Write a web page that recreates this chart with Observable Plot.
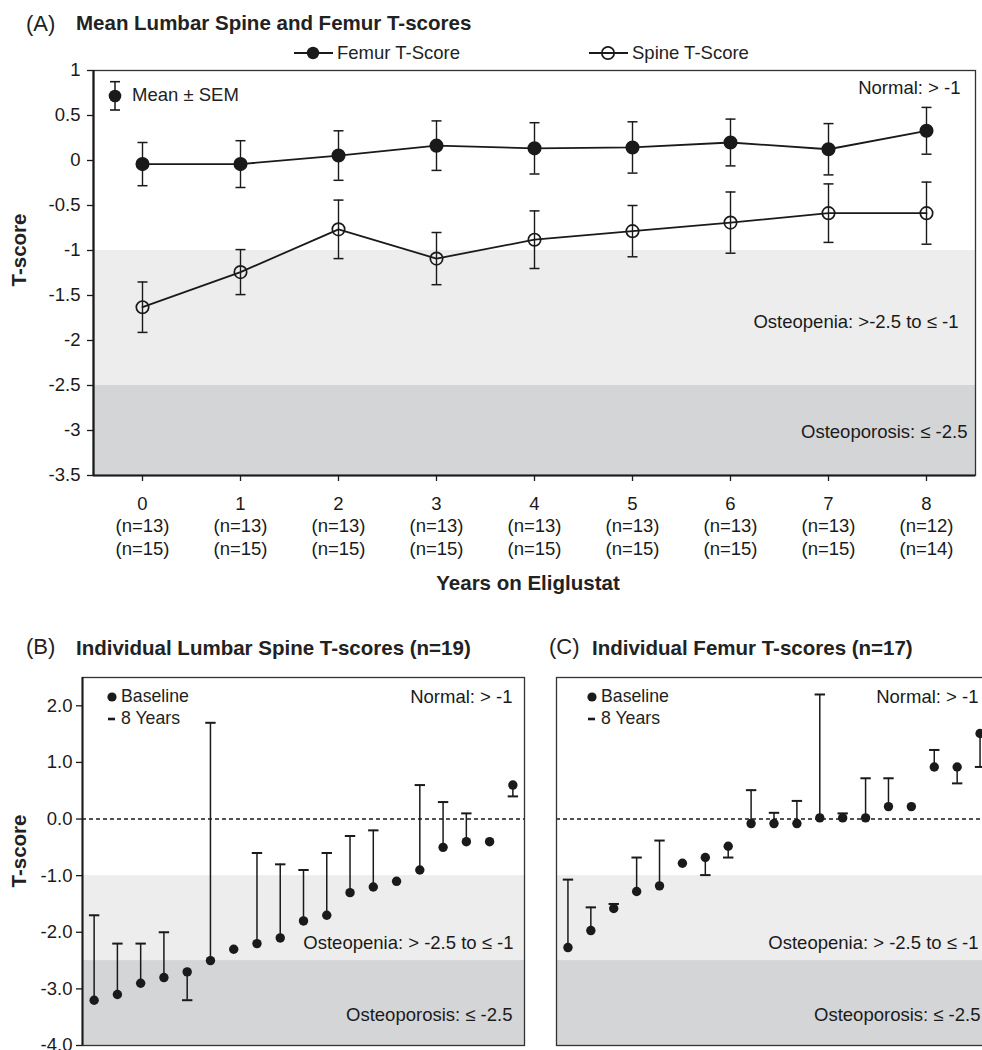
<!DOCTYPE html>
<html><head><meta charset="utf-8">
<script src="https://cdn.jsdelivr.net/npm/d3@7"></script>
<script src="https://cdn.jsdelivr.net/npm/@observablehq/plot@0.6"></script>
<style>
html,body{margin:0;padding:0;background:#fff;overflow:hidden;}
#wrap{position:relative;width:982px;height:1050px;overflow:hidden;background:#fff;font-family:"Liberation Sans",Arial,Helvetica,sans-serif;color:#222;}
.panel{position:absolute;}
.panel svg{max-width:none !important;display:block;}
.t{position:absolute;white-space:nowrap;line-height:1;transform:translateY(-50%);font-size:18.5px;}
.b{font-weight:bold;font-size:20.5px;}
.ic{position:absolute;overflow:visible;line-height:0;}
.ic svg{display:block;}
</style></head>
<body><div id="wrap"></div>
<script>
// ---------- Data ----------
const years = [0, 1, 2, 3, 4, 5, 6, 7, 8];
const nFemur = [13, 13, 13, 13, 13, 13, 13, 13, 12];
const nSpine = [15, 15, 15, 15, 15, 15, 15, 15, 14];
const femurMean = [-0.04, -0.04, 0.055, 0.165, 0.135, 0.145, 0.20, 0.125, 0.33];
const femurSEM  = [0.24, 0.26, 0.275, 0.275, 0.285, 0.285, 0.26, 0.285, 0.26];
const spineMean = [-1.63, -1.24, -0.765, -1.09, -0.88, -0.785, -0.69, -0.585, -0.585];
const spineSEM  = [0.28, 0.25, 0.325, 0.29, 0.32, 0.285, 0.34, 0.325, 0.345];
const yTicksA = [1, 0.5, 0, -0.5, -1, -1.5, -2, -2.5, -3, -3.5];

const spineBaseline = [-3.2, -3.1, -2.9, -2.8, -2.7, -2.5, -2.3, -2.2, -2.1, -1.8, -1.7, -1.3, -1.2, -1.1, -0.9, -0.5, -0.4, -0.4, 0.6];
const spineYear8    = [-1.7, -2.2, -2.2, -2.0, -3.2, 1.7, null, -0.6, -0.8, -0.9, -0.6, -0.3, -0.2, null, 0.6, 0.3, 0.1, null, 0.4];
const femurBaseline = [-2.27, -1.97, -1.58, -1.28, -1.18, -0.78, -0.68, -0.48, -0.08, -0.08, -0.08, 0.02, 0.02, 0.02, 0.22, 0.22, 0.92, 0.92, 1.51];
const femurYear8    = [-1.07, -1.56, -1.5, -0.68, -0.38, null, -0.99, -0.68, 0.51, 0.11, 0.32, 2.2, 0.1, 0.72, 0.72, null, 1.22, 0.63, 0.92];
const yTicksB = [2, 1, 0, -1, -2, -3, -4];

const normalLimit = -1, osteoporosisLimit = -2.5;

// ---------- Helpers ----------
const wrap = document.getElementById("wrap");
const FONT = '"Liberation Sans", Arial, Helvetica, sans-serif';
const INK = "#1a1a1a";
const cap = {draw(ctx, size) { const w = Math.sqrt(size / Math.PI); ctx.moveTo(-w, 0); ctx.lineTo(w, 0); }};
function place(node, left, top) {
  const d = document.createElement("div");
  d.className = "panel"; d.style.left = left + "px"; d.style.top = top + "px";
  d.appendChild(node); wrap.appendChild(d);
}
function txt(s, left, cy, cls = "", extra = "") {
  const d = document.createElement("div");
  d.className = "t " + cls; d.textContent = s;
  d.style.left = left + "px"; d.style.top = cy + "px";
  if (extra) d.style.cssText += extra;
  wrap.appendChild(d); return d;
}
function icon(svg, left, top, w, h) {
  const d = document.createElement("div");
  d.className = "ic"; d.style.left = left + "px"; d.style.top = top + "px";
  d.innerHTML = `<svg width="${w}" height="${h}" style="overflow:visible">${svg}</svg>`;
  wrap.appendChild(d);
}
const style = {fontFamily: FONT, fontSize: "18.5px", color: INK, background: "transparent", overflow: "visible"};
const zone = (label, y, dx) => Plot.text([label], {text: d => d, y: () => y, frameAnchor: "right", textAnchor: "end", dx, fill: INK});

// ---------- Panel A ----------
const femur = years.map((x, i) => ({x, m: femurMean[i], lo: femurMean[i] - femurSEM[i], hi: femurMean[i] + femurSEM[i]}));
const spine = years.map((x, i) => ({x, m: spineMean[i], lo: spineMean[i] - spineSEM[i], hi: spineMean[i] + spineSEM[i]}));
const xDomA = [-0.5, 8.5], yDomA = [-3.5, 1];
function series(data, filled) {
  return [
    Plot.ruleX(data, {x: "x", y1: "lo", y2: "hi", stroke: INK, strokeWidth: 1.4}),
    Plot.dot(data, {x: "x", y: "lo", symbol: cap, r: 5, fill: "none", stroke: INK, strokeWidth: 1.5}),
    Plot.dot(data, {x: "x", y: "hi", symbol: cap, r: 5, fill: "none", stroke: INK, strokeWidth: 1.5}),
    Plot.line(data, {x: "x", y: "m", stroke: INK, strokeWidth: 1.8}),
    Plot.dot(data, {x: "x", y: "m", r: 6.2, fill: filled ? INK : "none", stroke: INK, strokeWidth: 1.7})
  ];
}
const plotA = Plot.plot({
  width: 982, height: 540, marginTop: 10, marginLeft: 93, marginRight: 7, marginBottom: 125,
  style,
  x: {domain: xDomA}, y: {domain: yDomA},
  marks: [
    Plot.rect([0], {y1: () => osteoporosisLimit, y2: () => normalLimit, fill: "#ededed"}),
    Plot.rect([0], {y1: () => yDomA[0], y2: () => osteoporosisLimit, fill: "#d4d5d7"}),
    zone("Normal: > -1", 0.8, -15),
    zone("Osteopenia: >-2.5 to \u2264 -1", -1.8, -17),
    zone("Osteoporosis: \u2264 -2.5", -3.02, -8),
    ...series(femur, true),
    ...series(spine, false),
    Plot.frame({stroke: "#333", strokeWidth: 1.3}),
    Plot.ruleX([xDomA[0]], {stroke: INK, strokeWidth: 2.2}),
    Plot.ruleY([yDomA[0]], {stroke: INK, strokeWidth: 2.2}),
    Plot.axisY(yTicksA, {tickSize: 6, tickPadding: 7, tickFormat: d => String(d), label: null, strokeWidth: 1.3}),
    Plot.axisX(years, {tickSize: 6, tickPadding: 12, lineHeight: 1.22, label: null, strokeWidth: 1.3,
      tickFormat: d => { const i = years.indexOf(d); return `${d}\n(n=${nFemur[i]})\n(n=${nSpine[i]})`; }})
  ]
});
place(plotA, 0, 60);

// ---------- Panels B and C ----------
function individual(base, y8, opts) {
  const data = base.map((b, i) => ({id: i + 1, b, e: y8[i]}));
  const paired = data.filter(d => d.e != null);
  const yDom = [-4, 2.5], xDom = [0.5, base.length + 0.5];
  return Plot.plot({
    width: opts.width, height: 398, marginTop: 10, marginLeft: opts.ml, marginRight: opts.mr, marginBottom: 20,
    style,
    x: {domain: xDom, axis: null}, y: {domain: yDom, axis: null},
    marks: [
      Plot.rect([0], {y1: () => osteoporosisLimit, y2: () => normalLimit, fill: "#ededed"}),
      Plot.rect([0], {y1: () => yDom[0], y2: () => osteoporosisLimit, fill: "#d4d5d7"}),
      Plot.ruleY([0], {stroke: INK, strokeWidth: 1.4, strokeDasharray: "4,3"}),
      zone("Normal: > -1", 2.15, opts.dx[0]),
      zone("Osteopenia: > -2.5 to \u2264 -1", -2.19, opts.dx[1]),
      zone("Osteoporosis: \u2264 -2.5", -3.47, opts.dx[2]),
      Plot.ruleX(paired, {x: "id", y1: "b", y2: "e", stroke: INK, strokeWidth: 1.5}),
      Plot.dot(paired, {x: "id", y: "e", symbol: cap, r: 5.2, fill: "none", stroke: INK, strokeWidth: 2}),
      Plot.dot(data, {x: "id", y: "b", r: 4.7, fill: INK}),
      Plot.frame({stroke: "#333", strokeWidth: 1.3}),
      ...(opts.axis ? [
        Plot.ruleX([xDom[0]], {stroke: INK, strokeWidth: 2}),
        Plot.axisY(yTicksB, {tickSize: 6, tickPadding: 4, tickFormat: d => d.toFixed(1), label: null, strokeWidth: 1.3})
      ] : [])
    ]
  });
}
place(individual(spineBaseline, spineYear8, {width: 530, ml: 82, mr: 6, axis: true, dx: [-12, -11, -12]}), 0, 667);
place(individual(femurBaseline, femurYear8, {width: 461, ml: 16, mr: 10, axis: false, dx: [-13, -13, -11]}), 540, 667);

// ---------- Titles, axis titles, legends ----------
txt("(A)", 26, 24, "", "font-size:22px;");
txt("Mean Lumbar Spine and Femur T-scores", 76, 23, "b");
txt("T-score", 19, 250, "b", "transform:translate(-50%,-50%) rotate(-90deg);");
txt("Years on Eliglustat", 528, 583, "b", "transform:translate(-50%,-50%);");

icon(`<line x1="2" y1="8" x2="41" y2="8" stroke="${INK}" stroke-width="1.8"/><circle cx="21" cy="8" r="6.2" fill="${INK}"/>`, 292, 45, 44, 16);
txt("Femur T-Score", 337, 53);
icon(`<line x1="2" y1="8" x2="41" y2="8" stroke="${INK}" stroke-width="1.8"/><circle cx="21" cy="8" r="6.2" fill="none" stroke="${INK}" stroke-width="1.7"/>`, 587, 45, 44, 16);
txt("Spine T-Score", 632, 53);

icon(`<line x1="10" y1="3.7" x2="10" y2="32" stroke="${INK}" stroke-width="1.5"/><line x1="5" y1="3.7" x2="15" y2="3.7" stroke="${INK}" stroke-width="1.6"/><line x1="5" y1="32" x2="15" y2="32" stroke="${INK}" stroke-width="1.6"/><circle cx="10" cy="18" r="6.3" fill="${INK}"/>`, 105, 78, 20, 36);
txt("Mean \u00b1 SEM", 132, 95);

txt("(B)", 26, 647, "", "font-size:22px;");
txt("Individual Lumbar Spine T-scores (n=19)", 76, 648, "b");
txt("(C)", 549, 647, "", "font-size:22px;");
txt("Individual Femur T-scores (n=17)", 592, 648, "b");
txt("T-score", 19, 851, "b", "transform:translate(-50%,-50%) rotate(-90deg);");

for (const [dotX, textX] of [[112, 121], [591.7, 601]]) {
  icon(`<circle cx="6" cy="6" r="4.6" fill="${INK}"/>`, dotX - 6, 691, 12, 12);
  txt("Baseline", textX, 697, "", "font-size:17.7px;");
  icon(`<line x1="0" y1="3" x2="7" y2="3" stroke="${INK}" stroke-width="2.6"/>`, dotX - 4, 716, 8, 6);
  txt("8 Years", textX, 719, "", "font-size:17.7px;");
}
</script></body></html>
